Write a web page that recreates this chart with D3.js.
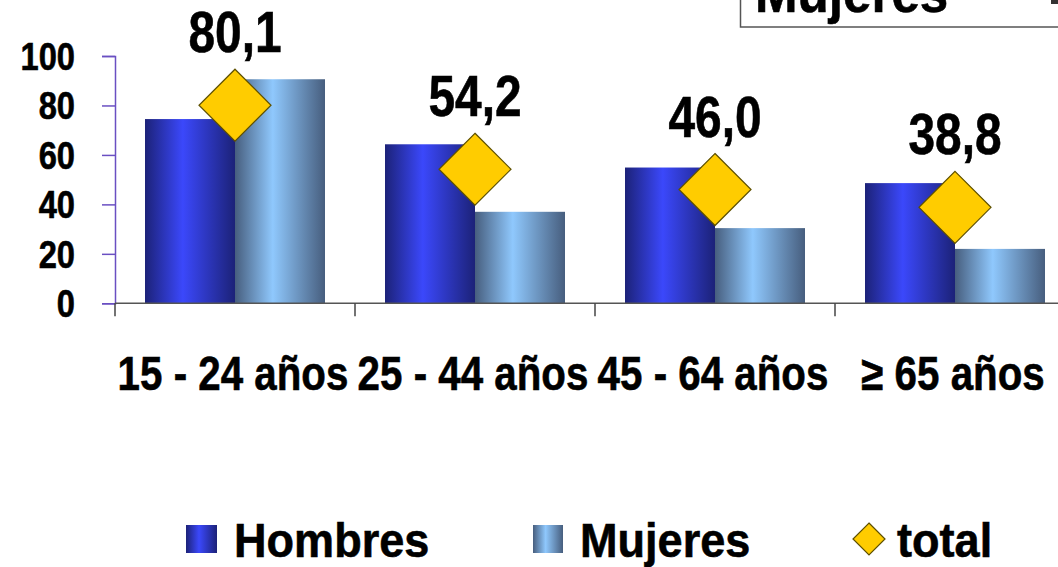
<!DOCTYPE html>
<html>
<head>
<meta charset="utf-8">
<script src="https://cdn.jsdelivr.net/npm/d3@7"></script>
<style>
  html, body { margin: 0; padding: 0; background: #fff; }
  svg { display: block; }
  .lbl { font-family: 'Liberation Sans', Arial, sans-serif; font-weight: bold; fill: #000; stroke: #000; stroke-width: 0.6; }
</style>
</head>
<body>
<svg id="chart" width="1058" height="567"></svg>
<script>
'use strict';

/* ── Data ─────────────────────────────────────────────────── */
const categories  = ['15 - 24 años', '25 - 44 años', '45 - 64 años', '\u2265 65 años'];
const hombres     = [74.5, 64.3, 54.9, 48.6];
const mujeres     = [90.6, 37.0, 30.4, 22.0];
const total       = [80.1, 54.2, 46.0, 38.8];
const totalText   = ['80,1', '54,2', '46,0', '38,8'];
const yTicks      = [0, 20, 40, 60, 80, 100];
const seriesNames = ['Hombres', 'Mujeres', 'total'];

/* ── Layout ───────────────────────────────────────────────── */
const svg = d3.select('#chart');
const X0 = 115, X1 = 1075, Y0 = 303.3, Y1 = 56;

const x  = d3.scaleBand().domain(categories).range([X0, X1]).paddingInner(0.25).paddingOuter(0.125);
const xs = d3.scaleBand().domain(['h', 'm']).range([0, x.bandwidth()]);
const y  = d3.scaleLinear().domain([0, 100]).range([Y0, Y1]);

/* narrow bold text: Arial Narrow look via horizontal squeeze */
function narrowText(parent, tx, ty, size, sx, anchor, str) {
  return parent.append('text').attr('class', 'lbl')
    .attr('transform', `translate(${tx},${ty}) scale(${sx},1)`)
    .attr('font-size', size).attr('text-anchor', anchor)
    .text(str);
}

/* ── Gradients ── */
const defs = svg.append('defs');
function hGrad(id, edge, mid) {
  const g = defs.append('linearGradient').attr('id', id).attr('x1', 0).attr('x2', 1).attr('y1', 0).attr('y2', 0);
  g.append('stop').attr('offset', '0%').attr('stop-color', edge);
  g.append('stop').attr('offset', '42%').attr('stop-color', mid);
  g.append('stop').attr('offset', '100%').attr('stop-color', edge);
}
hGrad('gH', '#1c2278', '#3b48fb');
hGrad('gM', '#475e7e', '#8fc8fd');

/* ── Top-right cut-off box ── */
svg.append('rect')
  .attr('x', 740.5).attr('y', -40).attr('width', 340).attr('height', 67)
  .attr('fill', 'none').attr('stroke', '#555').attr('stroke-width', 1.5);
narrowText(svg, 755, 12, 55, 0.93, 'start', 'Mujeres');
svg.append('rect').attr('x', 1051).attr('y', 0).attr('width', 7).attr('height', 4).attr('fill', '#333');

/* ── Y axis ── */
const yAxis = d3.axisLeft(y).tickValues(yTicks).tickSize(13).tickFormat('');
const yg = svg.append('g').attr('transform', `translate(${X0},0)`).call(yAxis);
yg.select('.domain').attr('stroke', '#6a4fc2').attr('stroke-width', 1.5);
yg.selectAll('.tick line').attr('stroke', '#6a4fc2').attr('stroke-width', 1.5);

yTicks.forEach(t => narrowText(svg, 75, y(t) + 14, 38, 0.86, 'end', t));

/* ── Bars ── */
categories.forEach((c, i) => {
  svg.append('rect')
    .attr('x', x(c) + xs('h')).attr('y', y(hombres[i]))
    .attr('width', xs.bandwidth()).attr('height', Y0 - y(hombres[i]))
    .attr('fill', 'url(#gH)');
  svg.append('rect')
    .attr('x', x(c) + xs('m')).attr('y', y(mujeres[i]))
    .attr('width', xs.bandwidth()).attr('height', Y0 - y(mujeres[i]))
    .attr('fill', 'url(#gM)');
});

/* ── X axis ── */
svg.append('line')
  .attr('x1', X0).attr('x2', X1).attr('y1', Y0).attr('y2', Y0)
  .attr('stroke', '#555').attr('stroke-width', 1.5);
const xTickPos = categories.map(c => x(c) - x.step() * x.paddingInner() / 2);
svg.selectAll('.xt').data(xTickPos).enter().append('line')
  .attr('x1', d => d).attr('x2', d => d).attr('y1', Y0).attr('y2', Y0 + 13)
  .attr('stroke', '#444').attr('stroke-width', 1.5);

categories.forEach(c => narrowText(svg, x(c) + x.bandwidth() / 2 - 2, 390, 48, 0.84, 'middle', c));

/* ── Total diamonds + labels ── */
const DH = 36;
function diamond(cx, cy, r) {
  return `M${cx},${cy - r}L${cx + r},${cy}L${cx},${cy + r}L${cx - r},${cy}Z`;
}
categories.forEach((c, i) => {
  const cx = x(c) + x.bandwidth() / 2, cy = y(total[i]);
  svg.append('path').attr('d', diamond(cx, cy, DH))
    .attr('fill', '#ffcc00').attr('stroke', '#5e5000').attr('stroke-width', 1.2);
  narrowText(svg, cx, cy - 53, 57, 0.84, 'middle', totalText[i]);
});

/* ── Legend ── */
const lg = svg.append('g');
lg.append('rect').attr('x', 186).attr('y', 525).attr('width', 31).attr('height', 28).attr('fill', 'url(#gH)');
narrowText(lg, 234, 557, 49, 0.92, 'start', seriesNames[0]);
lg.append('rect').attr('x', 533).attr('y', 525).attr('width', 30).attr('height', 28).attr('fill', 'url(#gM)');
narrowText(lg, 580, 557, 49, 0.92, 'start', seriesNames[1]);
lg.append('path').attr('d', diamond(869, 539, 16))
  .attr('fill', '#ffcc00').attr('stroke', '#5e5000').attr('stroke-width', 1.2);
narrowText(lg, 897, 557, 49, 0.92, 'start', seriesNames[2]);
</script>
</body>
</html>
